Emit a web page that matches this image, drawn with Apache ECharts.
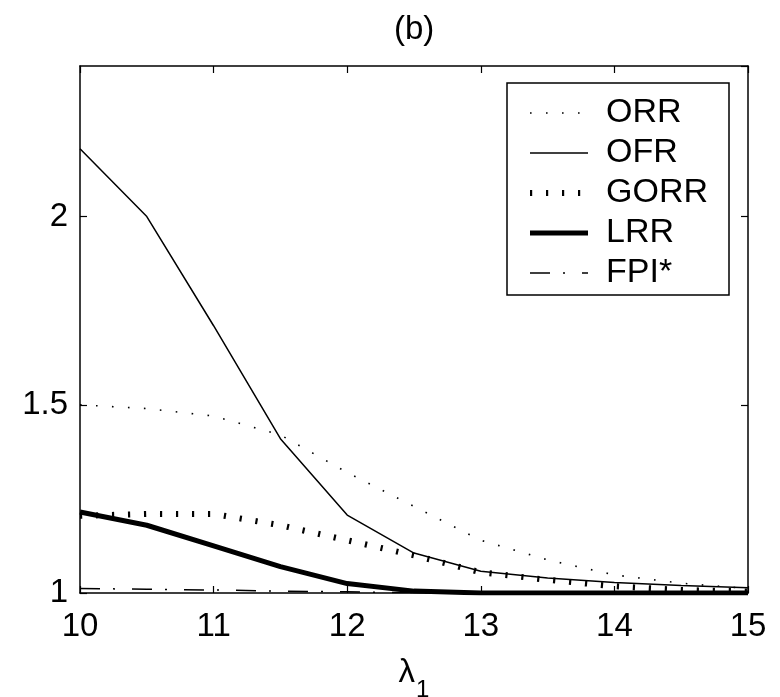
<!DOCTYPE html>
<html>
<head>
<meta charset="utf-8">
<script src="https://cdn.jsdelivr.net/npm/echarts@6/dist/echarts.min.js"></script>
<style>
  html, body { margin: 0; padding: 0; background: #fff; }
  #chart { width: 780px; height: 697px; }
</style>
</head>
<body>
<div id="chart"></div>
<script>
var lambda1 = [10, 10.5, 11, 11.5, 12, 12.5, 13, 13.5, 14, 14.5, 15];

var orr  = [1.50, 1.49, 1.47, 1.42, 1.32, 1.23, 1.14, 1.088, 1.048, 1.026, 1.012];
var ofr  = [2.18, 2.00, 1.71, 1.41, 1.207, 1.106, 1.058, 1.04, 1.028, 1.02, 1.014];
var gorr = [1.205, 1.21, 1.21, 1.18, 1.14, 1.10, 1.055, 1.035, 1.018, 1.008, 1.004];
var lrr  = [1.215, 1.18, 1.125, 1.07, 1.025, 1.005, 1.0, 1.0, 1.0, 1.0, 1.0];
var fpi  = [1.012, 1.010, 1.008, 1.005, 1.003, 1.001, 1.0, 1.0, 1.0, 1.0, 1.0];

var yTicks = [1, 1.5, 2];

function pairs(ys) {
    return lambda1.map(function (x, i) { return [x, ys[i]]; });
}

var chart = echarts.init(document.getElementById('chart'));

var font = 'Liberation Sans, Arial, sans-serif';

// line looks, shared between the series and the legend samples
var styles = {
    'ORR':  { color: '#000', width: 1.6, type: [1.6, 14.4], cap: 'butt' },
    'OFR':  { color: '#000', width: 1.5, type: 'solid' },
    'GORR': { color: '#000', width: 6, type: [2.2, 13.8], cap: 'butt' },
    'LRR':  { color: '#000', width: 5, type: 'solid' },
    'FPI*': { color: '#000', width: 1.5, type: [20, 13, 2, 17] }
};
var names = ['ORR', 'OFR', 'GORR', 'LRR', 'FPI*'];
var values = [orr, ofr, gorr, lrr, fpi];

function frameAxis(extra) {
    var a = {
        axisLine: { show: true, onZero: false, lineStyle: { color: '#000', width: 1.5 } },
        axisTick: { show: true, inside: true, length: 7, lineStyle: { color: '#000', width: 1.2 } },
        splitLine: { show: false },
        axisLabel: { show: false }
    };
    for (var k in extra) a[k] = extra[k];
    return a;
}

var option = {
    animation: false,
    backgroundColor: '#fff',
    textStyle: { fontFamily: font },
    title: {
        text: '(b)',
        left: 394,
        top: 13,
        padding: 0,
        textStyle: { fontFamily: font, fontSize: 33, fontWeight: 'normal', color: '#000' }
    },
    grid: { left: 80, right: 32, top: 66, bottom: 104, containLabel: false, outerBoundsMode: 'none' },
    legend: {
        orient: 'vertical',
        align: 'left',
        left: 507,
        top: 83,
        padding: [10, 21, 2, 20],
        itemGap: 0,
        itemWidth: 58,
        itemHeight: 14,
        borderColor: '#000',
        borderWidth: 1.5,
        backgroundColor: '#fff',
        itemStyle: { opacity: 0, borderWidth: 0 },
        textStyle: { fontFamily: font, fontSize: 34, color: '#000', lineHeight: 40, padding: [0, 0, 0, 13] },
        data: names.map(function (n) {
            return { name: n, itemStyle: { opacity: 0 }, lineStyle: styles[n] };
        })
    },
    xAxis: [
        frameAxis({
            type: 'value', min: 10, max: 15, interval: 1, position: 'bottom',
            axisLabel: { show: true, color: '#000', fontSize: 33, fontFamily: font, margin: 17 },
            name: '{a|λ}{b|1}',
            nameLocation: 'middle',
            nameGap: 50,
            nameTextStyle: {
                rich: {
                    a: { fontSize: 33, fontFamily: font, color: '#000' },
                    b: { fontSize: 24, fontFamily: font, color: '#000', padding: [35, 0, 0, 1] }
                }
            }
        }),
        frameAxis({ type: 'value', min: 10, max: 15, interval: 1, position: 'top' })
    ],
    yAxis: [
        frameAxis({
            type: 'value', min: 1, max: 2.4, interval: 0.5, position: 'left',
            axisLabel: {
                show: true, color: '#000', fontSize: 33, fontFamily: font, margin: 12,
                showMaxLabel: false,
                formatter: function (v) { return yTicks.indexOf(v) >= 0 ? String(v) : ''; }
            }
        }),
        frameAxis({ type: 'value', min: 1, max: 2.4, interval: 0.5, position: 'right' })
    ],
    series: names.map(function (n, i) {
        return {
            name: n, type: 'line', symbol: 'none', data: pairs(values[i]),
            lineStyle: styles[n],
            itemStyle: { color: '#000' }
        };
    })
};

chart.setOption(option);
</script>
</body>
</html>
